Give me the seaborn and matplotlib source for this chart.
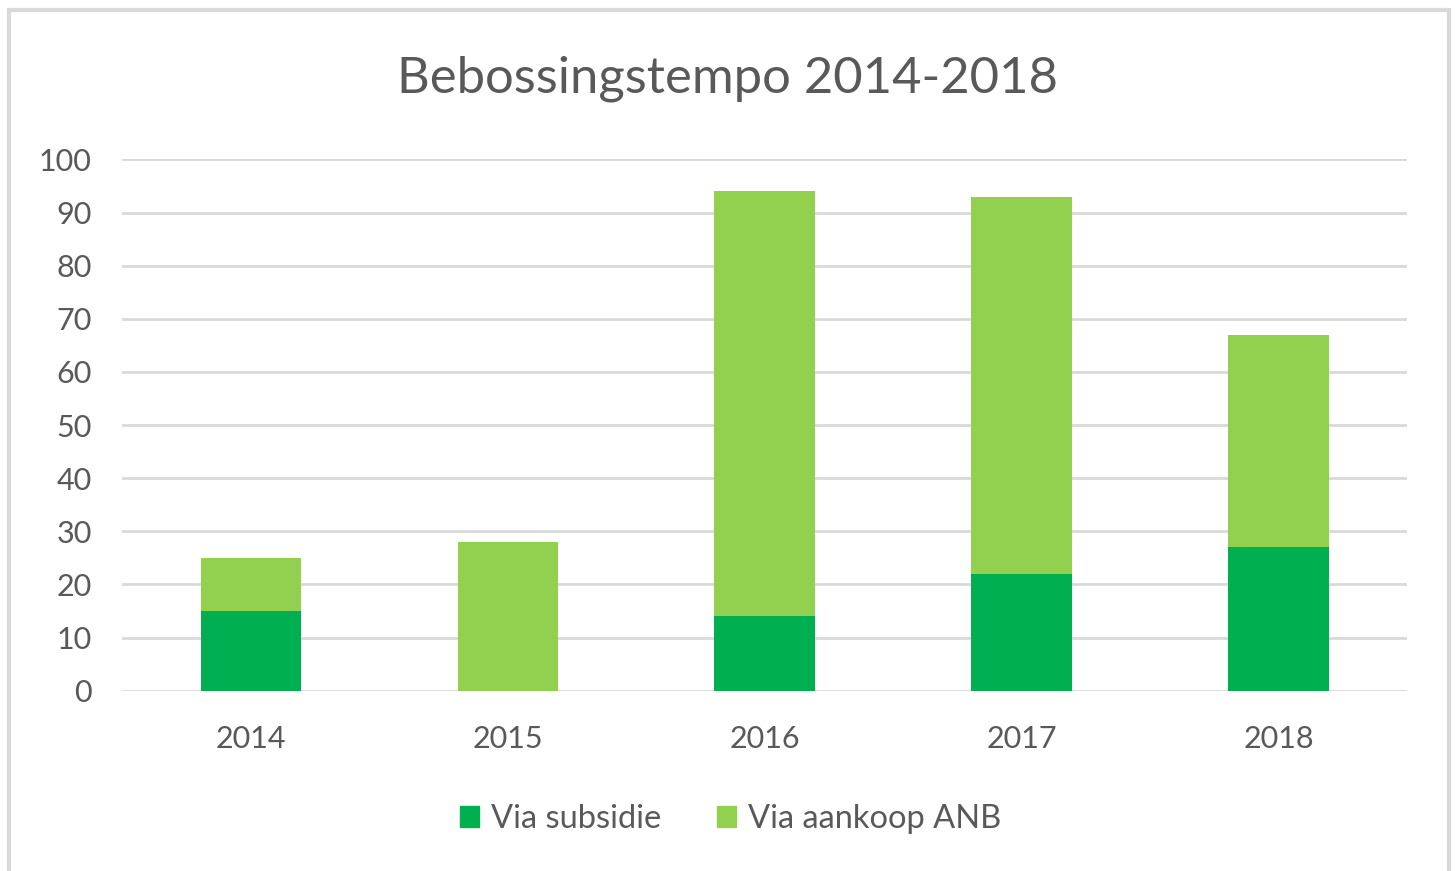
import numpy as np
import pandas as pd
import matplotlib
matplotlib.use("Agg")
import matplotlib.pyplot as plt
from matplotlib.patches import Rectangle, Patch
import seaborn as sns

# data
years = ['2014', '2015', '2016', '2017', '2018']
via_subsidie = [15, 0, 14, 22, 27]
via_aankoop_anb = [10, 28, 80, 71, 40]

dark_green = '#00B050'
light_green = '#92D050'
text_grey = '#595959'

sns.set_style('white')
plt.rcParams['font.family'] = ['Lato', 'DejaVu Sans']

df = pd.DataFrame({'jaar': years, 'subsidie': via_subsidie, 'anb': via_aankoop_anb})
df['totaal'] = df['subsidie'] + df['anb']

fig = plt.figure(figsize=(14.55, 8.71), dpi=100)
ax = fig.add_axes([0.084, 0.207, 0.883, 0.61])

# stacked: draw total in light green, subsidie on top in dark green
sns.barplot(data=df, x='jaar', y='totaal', color=light_green, width=0.39,
            saturation=1, linewidth=0, ax=ax, zorder=3)
sns.barplot(data=df, x='jaar', y='subsidie', color=dark_green, width=0.39,
            saturation=1, linewidth=0, ax=ax, zorder=4)

ax.set_xlim(-0.5, 4.5)
ax.set_ylim(0, 100)
ax.set_yticks(range(0, 101, 10))
ax.grid(axis='y', color='#D9D9D9', linewidth=2, zorder=0)
ax.set_xlabel('')
ax.set_ylabel('')
for s in ax.spines.values():
    s.set_visible(False)
ax.tick_params(axis='both', length=0, labelsize=22, labelcolor=text_grey)
ax.tick_params(axis='y', pad=22)
ax.tick_params(axis='x', pad=25)

fig.text(0.5, 0.91, 'Bebossingstempo 2014-2018', ha='center', va='center',
         fontsize=36.5, color=text_grey)

handles = [Patch(color=dark_green, label='Via subsidie'),
           Patch(color=light_green, label='Via aankoop ANB')]
fig.legend(handles=handles, loc='center', bbox_to_anchor=(0.502, 0.06), ncol=2,
           frameon=False, fontsize=23.5, labelcolor=text_grey, handlelength=0.6,
           handleheight=0.6, handletextpad=0.35, columnspacing=1.7)

# light grey frame around the chart area
fig.patches.append(Rectangle((0.006, -0.02), 0.99, 1.008, transform=fig.transFigure,
                             fill=False, edgecolor='#D9D9D9', linewidth=3))

fig.savefig('out.png', dpi=100, facecolor='white')
